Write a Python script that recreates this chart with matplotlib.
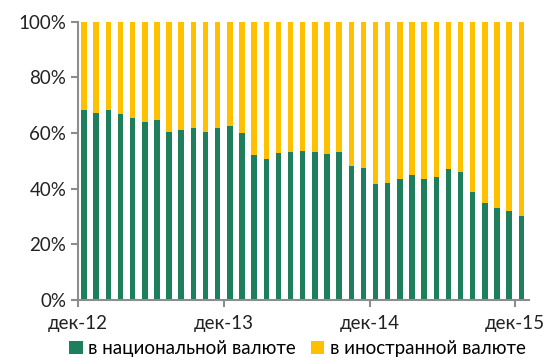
import matplotlib
matplotlib.use("Agg")
import matplotlib.pyplot as plt
import numpy as np

# monthly shares, dec-12 .. dec-15
national = [68.3, 67.3, 68.3, 66.9, 65.5, 64.0, 64.7, 60.3, 61.2, 62.0, 60.4, 61.9,
            62.7, 60.0, 52.0, 50.7, 52.8, 53.2, 53.7, 53.2, 52.4, 53.1, 48.2, 47.6,
            41.8, 42.2, 43.5, 44.8, 43.5, 44.2, 47.1, 45.9, 39.0, 34.9, 33.2, 32.1, 30.3]
foreign = [100 - v for v in national]
tick_labels = ["дек-12", "дек-13", "дек-14", "дек-15"]
series_names = ["в национальной валюте", "в иностранной валюте"]

green = "#1e7f5c"
yellow = "#ffc000"
gray = "#8c8c8c"

plt.rcParams['font.family'] = ['Lato', 'DejaVu Sans']

fig = plt.figure(figsize=(5.55, 3.58), dpi=100)
ax = fig.add_axes([0.1405, 0.162, 0.812, 0.777])

x = np.arange(len(national))
ax.bar(x, national, width=0.45, color=green, label=series_names[0])
ax.bar(x, foreign, width=0.45, bottom=national, color=yellow, label=series_names[1])

ax.set_xlim(-0.5, len(national) - 0.4)
ax.set_ylim(0, 100)
ax.set_yticks(np.arange(0, 101, 20))
ax.set_yticklabels([f"{v}%" for v in range(0, 101, 20)], fontsize=13.5, color="#222222")

tick_pos = [i * 12 - 0.5 for i in range(len(tick_labels))]
ax.set_xticks(tick_pos)
ax.set_xticklabels(tick_labels, fontsize=13.5, color="#222222")

for side in ["top", "right"]:
    ax.spines[side].set_visible(False)
for side in ["left", "bottom"]:
    ax.spines[side].set_color(gray)
    ax.spines[side].set_linewidth(1.5)
ax.tick_params(axis="both", colors=gray, width=1.5, length=5, direction="out")
ax.tick_params(axis="both", labelcolor="#222222")
ax.tick_params(axis="x", pad=6)

# reference legend runs off the bottom edge; keep it just inside
fig.legend(loc="lower left", bbox_to_anchor=(0.125, 0.003), ncol=2, frameon=False,
           fontsize=13.5, handlelength=0.7, handleheight=0.7, handletextpad=0.3,
           columnspacing=0.8, borderaxespad=0, borderpad=0)

fig.savefig("out.png", dpi=100)
